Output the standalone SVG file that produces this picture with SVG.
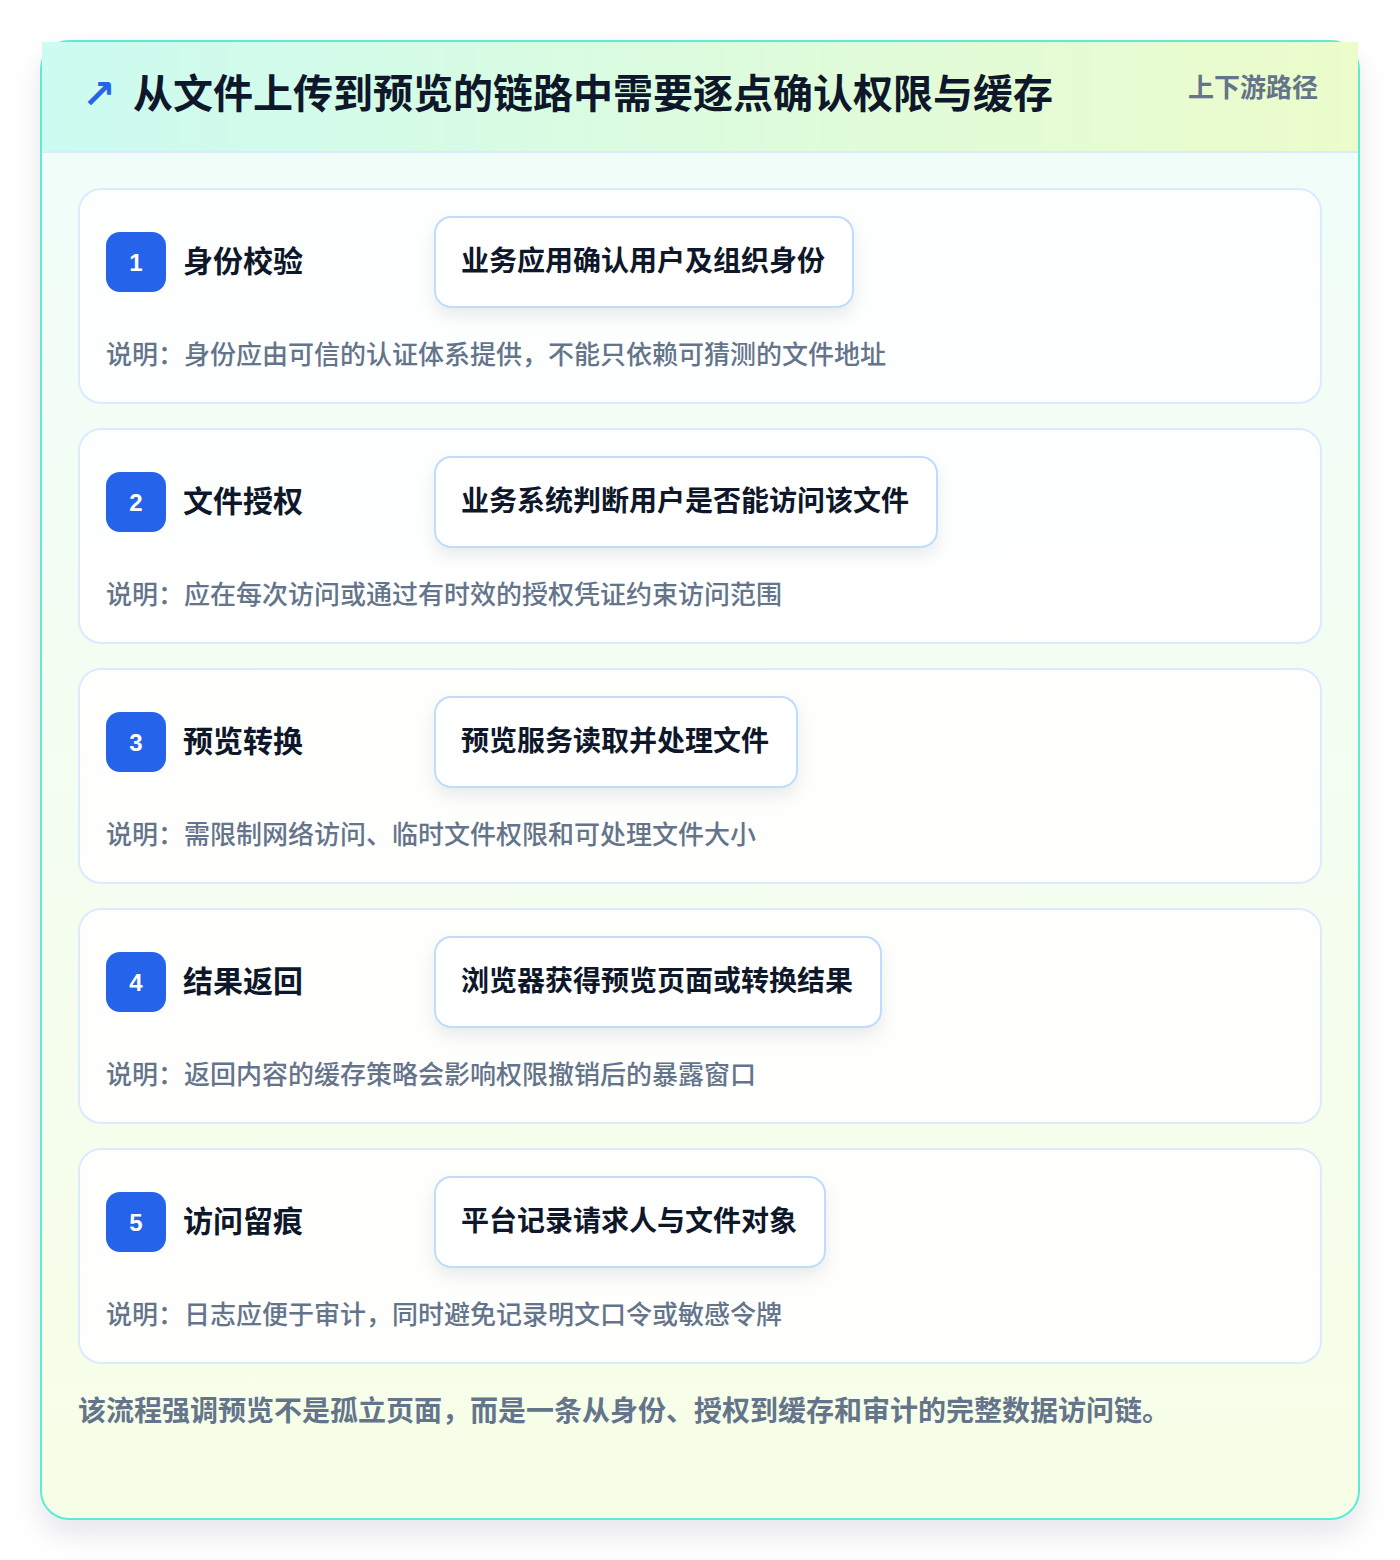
<svg xmlns="http://www.w3.org/2000/svg" width="1400" height="1560" viewBox="0 0 1400 1560">
<defs>
<linearGradient id="hdr" x1="0" y1="0" x2="1" y2="0">
<stop offset="0" stop-color="#ccfbf1"/>
<stop offset="1" stop-color="#ecfccb"/>
</linearGradient>
<linearGradient id="body" x1="0" y1="0" x2="0" y2="1">
<stop offset="0" stop-color="#f0fdfa"/>
<stop offset="1" stop-color="#f7fee7"/>
</linearGradient>
<filter id="outerShadow" x="-10%" y="-10%" width="120%" height="125%">
<feDropShadow dx="0" dy="14" stdDeviation="14" flood-color="#0f172a" flood-opacity="0.10"/>
</filter>
<filter id="boxShadow" x="-20%" y="-30%" width="140%" height="170%">
<feDropShadow dx="0" dy="8" stdDeviation="8" flood-color="#0f172a" flood-opacity="0.08"/>
</filter>
</defs>
<style>
.card{fill:#ffffff;fill-opacity:0.85;stroke:#dbeafe;stroke-width:2}
.badge{fill:#2563eb}
.num{font-family:"Liberation Sans",Arial,sans-serif;font-weight:700;font-size:24px;fill:#ffffff;text-anchor:middle}
.stitle{font-family:"Noto Sans CJK SC","Noto Sans",sans-serif;font-weight:700;font-size:30px;fill:#0f172a}
.box{fill:#ffffff;stroke:#bfdbfe;stroke-width:2}
.btext{font-family:"Noto Sans CJK SC","Noto Sans",sans-serif;font-weight:700;font-size:28px;fill:#0f172a}
.desc{font-family:"Noto Sans CJK SC","Noto Sans",sans-serif;font-weight:500;font-size:26px;fill:#64748b}
</style>
<rect x="0" y="0" width="1400" height="1560" fill="#ffffff"/>
<g id="frame">
<rect x="41" y="41" width="1318" height="1478" rx="28" fill="url(#body)" stroke="#5eead4" stroke-width="2" filter="url(#outerShadow)"/>
<rect x="42" y="42" width="1316" height="110" fill="url(#hdr)"/>
<line x1="42" y1="152" x2="1358" y2="152" stroke="#dbeafe" stroke-width="2"/>
<text x="82" y="108" font-family="DejaVu Sans,sans-serif" font-weight="700" font-size="40" fill="#2563eb">↗</text>
<text x="133" y="108" font-family="Noto Sans CJK SC,Noto Sans,sans-serif" font-weight="700" font-size="40" fill="#0f172a">从文件上传到预览的链路中需要逐点确认权限与缓存</text>
<text x="1318" y="97" text-anchor="end" font-family="Noto Sans CJK SC,Noto Sans,sans-serif" font-weight="600" font-size="26" fill="#64748b">上下游路径</text>
</g>
<g id="step1">
<rect class="card" x="79" y="189" width="1242" height="214" rx="22"/>
<rect class="badge" x="106" y="232" width="60" height="60" rx="14"/>
<text class="num" x="136" y="271">1</text>
<text class="stitle" x="183" y="272">身份校验</text>
<rect class="box" x="435" y="217" width="418" height="90" rx="16" filter="url(#boxShadow)"/>
<text class="btext" x="461" y="271">业务应用确认用户及组织身份</text>
<text class="desc" x="106" y="364">说明：身份应由可信的认证体系提供，不能只依赖可猜测的文件地址</text>
</g>
<g id="step2">
<rect class="card" x="79" y="429" width="1242" height="214" rx="22"/>
<rect class="badge" x="106" y="472" width="60" height="60" rx="14"/>
<text class="num" x="136" y="511">2</text>
<text class="stitle" x="183" y="512">文件授权</text>
<rect class="box" x="435" y="457" width="502" height="90" rx="16" filter="url(#boxShadow)"/>
<text class="btext" x="461" y="511">业务系统判断用户是否能访问该文件</text>
<text class="desc" x="106" y="604">说明：应在每次访问或通过有时效的授权凭证约束访问范围</text>
</g>
<g id="step3">
<rect class="card" x="79" y="669" width="1242" height="214" rx="22"/>
<rect class="badge" x="106" y="712" width="60" height="60" rx="14"/>
<text class="num" x="136" y="751">3</text>
<text class="stitle" x="183" y="752">预览转换</text>
<rect class="box" x="435" y="697" width="362" height="90" rx="16" filter="url(#boxShadow)"/>
<text class="btext" x="461" y="751">预览服务读取并处理文件</text>
<text class="desc" x="106" y="844">说明：需限制网络访问、临时文件权限和可处理文件大小</text>
</g>
<g id="step4">
<rect class="card" x="79" y="909" width="1242" height="214" rx="22"/>
<rect class="badge" x="106" y="952" width="60" height="60" rx="14"/>
<text class="num" x="136" y="991">4</text>
<text class="stitle" x="183" y="992">结果返回</text>
<rect class="box" x="435" y="937" width="446" height="90" rx="16" filter="url(#boxShadow)"/>
<text class="btext" x="461" y="991">浏览器获得预览页面或转换结果</text>
<text class="desc" x="106" y="1084">说明：返回内容的缓存策略会影响权限撤销后的暴露窗口</text>
</g>
<g id="step5">
<rect class="card" x="79" y="1149" width="1242" height="214" rx="22"/>
<rect class="badge" x="106" y="1192" width="60" height="60" rx="14"/>
<text class="num" x="136" y="1231">5</text>
<text class="stitle" x="183" y="1232">访问留痕</text>
<rect class="box" x="435" y="1177" width="390" height="90" rx="16" filter="url(#boxShadow)"/>
<text class="btext" x="461" y="1231">平台记录请求人与文件对象</text>
<text class="desc" x="106" y="1324">说明：日志应便于审计，同时避免记录明文口令或敏感令牌</text>
</g>
<g id="connectors"></g>
<g id="footer">
<text x="78" y="1421" font-family="Noto Sans CJK SC,Noto Sans,sans-serif" font-weight="600" font-size="28" fill="#64748b">该流程强调预览不是孤立页面，而是一条从身份、授权到缓存和审计的完整数据访问链。</text>
</g>
</svg>
